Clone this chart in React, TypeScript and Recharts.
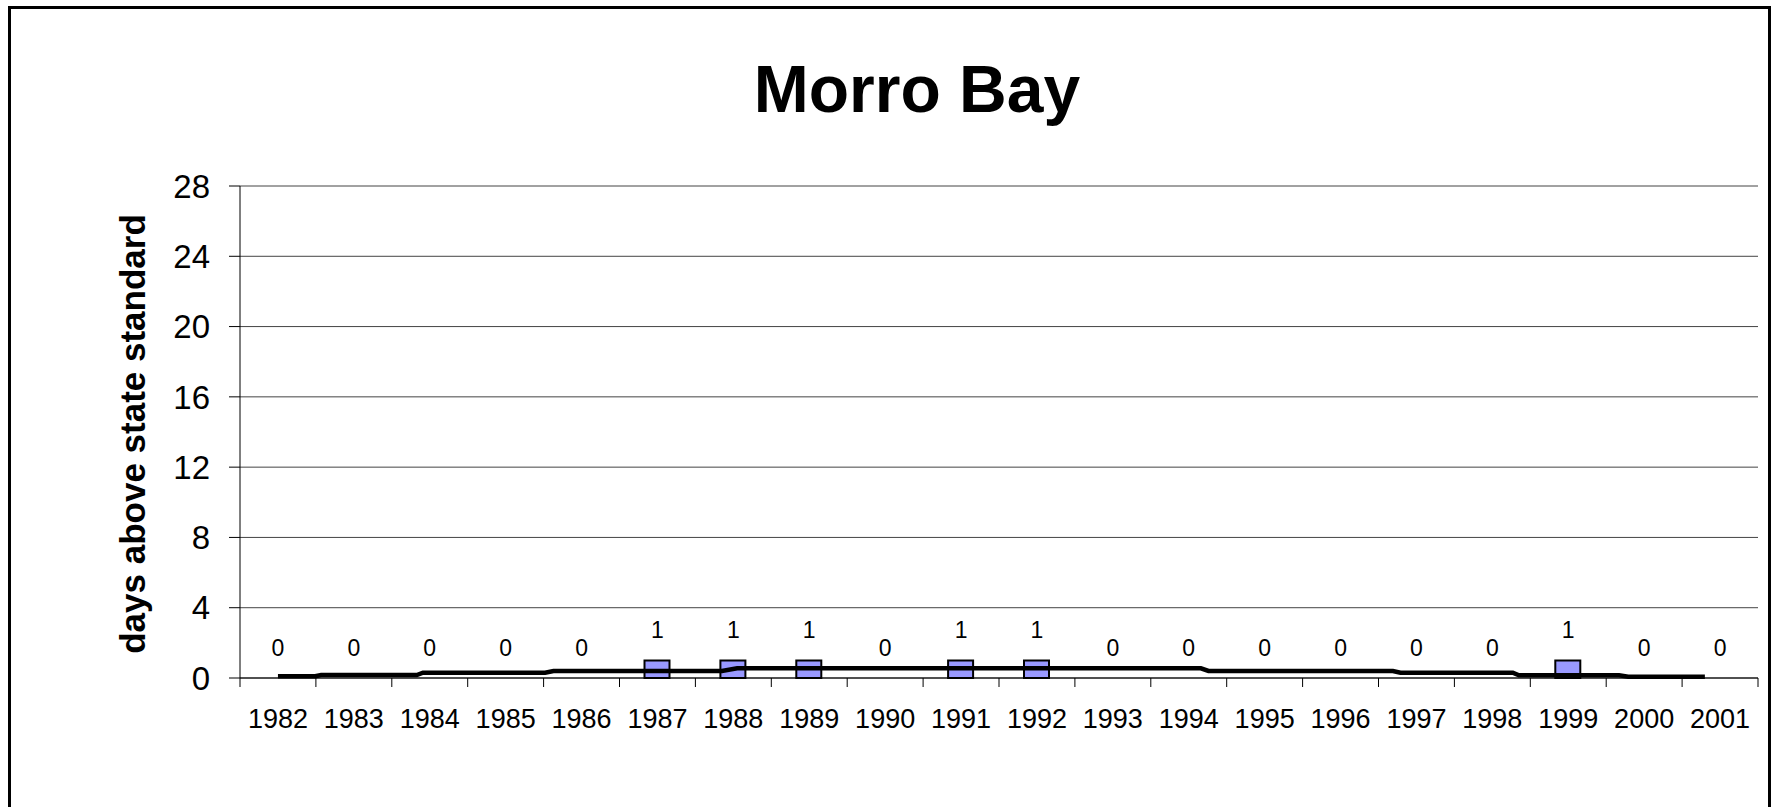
import { Bar, CartesianGrid, ComposedChart, LabelList, Line, XAxis, YAxis } from "recharts";

const YEARS = [
  "1982", "1983", "1984", "1985", "1986", "1987", "1988", "1989", "1990", "1991",
  "1992", "1993", "1994", "1995", "1996", "1997", "1998", "1999", "2000", "2001",
];
const DAYS = [0, 0, 0, 0, 0, 1, 1, 1, 0, 1, 1, 0, 0, 0, 0, 0, 0, 1, 0, 0];

// smoothed trend line (fractional year, days)
const TREND_T = [
  1982.0, 1982.49, 1982.57, 1983.83, 1983.91, 1985.52, 1985.63, 1987.85, 1988.05,
  1994.16, 1994.26, 1996.69, 1996.79, 1998.27, 1998.35, 1999.67, 1999.79, 2000.8,
];
const TREND_V = [
  0.1, 0.1, 0.17, 0.17, 0.3, 0.3, 0.4, 0.4, 0.55,
  0.55, 0.4, 0.4, 0.3, 0.3, 0.15, 0.15, 0.07, 0.07,
];
const Y_TICKS = [0, 4, 8, 12, 16, 20, 24, 28];

const FONT = '"Liberation Sans", Arial, sans-serif';

const barData = YEARS.map((year, i) => ({ year, days: DAYS[i] }));
const trendData = TREND_T.map((t, i) => ({ t, v: TREND_V[i] }));

const first = Number(YEARS[0]);
const last = Number(YEARS[YEARS.length - 1]);
// year centres get a label, half years get a tick mark (category boundaries)
const xTicks: number[] = [];
for (let y = first - 0.5; y <= last + 0.5; y += 0.5) xTicks.push(y);

function YearTick(props: any) {
  const { x, y, payload } = props;
  const v = payload.value as number;
  if (Number.isInteger(v)) {
    return (
      <text x={x} y={y + 50} textAnchor="middle" fontSize={27} fill="#000" fontFamily={FONT}>
        {v}
      </text>
    );
  }
  return <line x1={x} y1={y} x2={x} y2={y + 9} stroke="#000" strokeWidth={1} />;
}

export default function App() {
  return (
    <div style={{ position: "absolute", left: 0, top: 0, width: 1775, height: 807, overflow: "hidden", background: "#fff" }}>
      <div
        style={{
          position: "absolute",
          left: 8,
          top: 6,
          width: 1763,
          height: 801,
          border: "3px solid #000",
          borderBottom: "none",
          boxSizing: "border-box",
        }}
      />
      <div style={{ position: "absolute", left: 0, top: 0 }}>
        <ComposedChart
          width={1775}
          height={807}
          data={barData}
          margin={{ top: 186, right: 17, bottom: 69, left: 140 }}
          style={{ fontFamily: FONT }}
        >
          <CartesianGrid xAxisId="t" vertical={false} stroke="#444" strokeWidth={1} />
          <XAxis
            xAxisId="t"
            dataKey="t"
            type="number"
            domain={[first - 0.5, last + 0.5]}
            allowDataOverflow
            ticks={xTicks}
            interval={0}
            tickSize={0}
            tickMargin={0}
            tickLine={false}
            axisLine={{ stroke: "#000", strokeWidth: 1 }}
            tick={<YearTick />}
            height={60}
          />
          <XAxis xAxisId="band" dataKey="year" hide height={0} />
          <YAxis
            domain={[0, 28]}
            ticks={Y_TICKS}
            interval={0}
            width={100}
            tickSize={11}
            tickMargin={19}
            axisLine={{ stroke: "#000", strokeWidth: 1 }}
            tickLine={{ stroke: "#000", strokeWidth: 1 }}
            tick={{ fill: "#000", fontSize: 33, fontFamily: FONT }}
          />
          <Bar
            xAxisId="band"
            dataKey="days"
            barSize={25}
            fill="#9999FF"
            stroke="#000"
            strokeWidth={2}
            isAnimationActive={false}
          />
          {/* invisible series at the bar tops, only to carry the value labels (zeros included) */}
          <Line
            xAxisId="band"
            dataKey="days"
            stroke="none"
            dot={false}
            activeDot={false}
            isAnimationActive={false}
          >
            <LabelList dataKey="days" position="top" offset={22} fill="#000" fontSize={23} fontFamily={FONT} />
          </Line>
          <Line
            xAxisId="t"
            data={trendData}
            dataKey="v"
            type="linear"
            stroke="#000"
            strokeWidth={4.5}
            dot={false}
            activeDot={false}
            isAnimationActive={false}
          />
        </ComposedChart>
      </div>
      <svg width={1775} height={807} style={{ position: "absolute", left: 0, top: 0, pointerEvents: "none" }}>
        <text x={917} y={112} textAnchor="middle" fontSize={66} fontWeight="bold" fontFamily={FONT} fill="#000">
          Morro Bay
        </text>
        <text
          transform="translate(132, 434) rotate(-90)"
          textAnchor="middle"
          dominantBaseline="central"
          fontSize={35}
          fontWeight="bold"
          fontFamily={FONT}
          fill="#000"
        >
          days above state standard
        </text>
      </svg>
    </div>
  );
}
